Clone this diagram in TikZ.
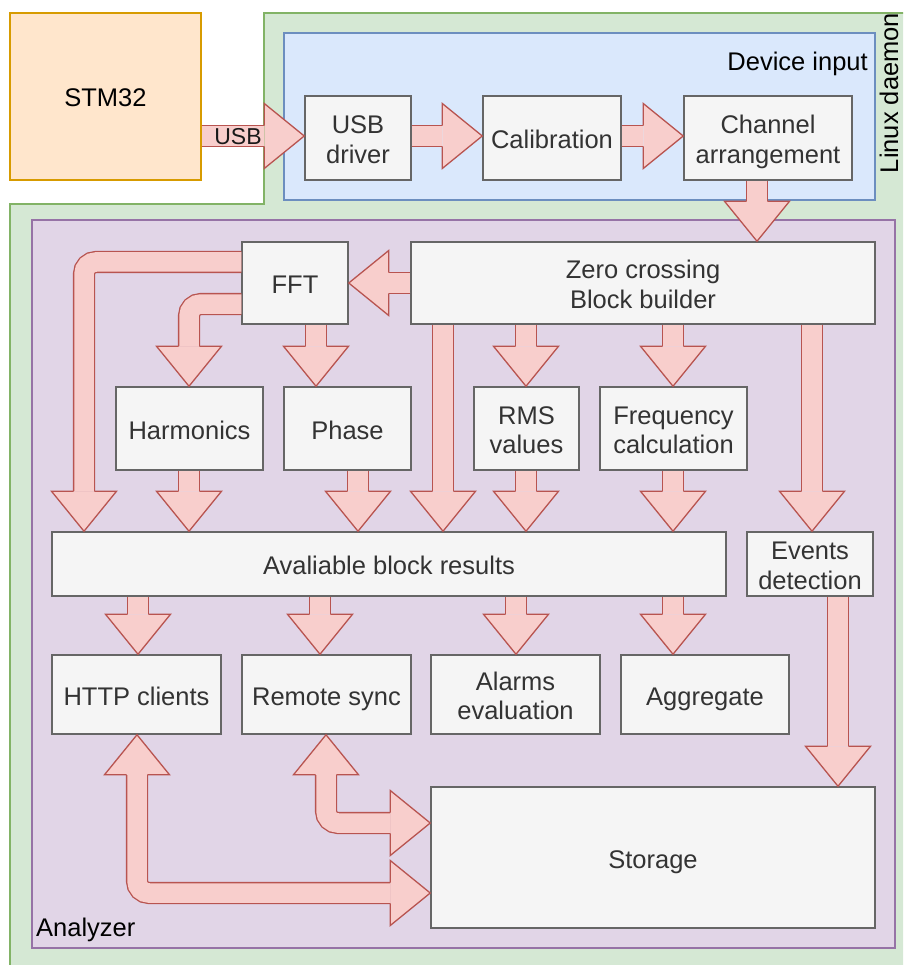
\documentclass[tikz,border=0pt]{standalone}
\usepackage{fontspec}
\setmainfont{Liberation Sans}
\usetikzlibrary{calc}
\definecolor{afill}{HTML}{F8CECC}
\definecolor{astroke}{HTML}{B85450}
\definecolor{bfill}{HTML}{F5F5F5}
\definecolor{bstroke}{HTML}{666666}
\definecolor{btext}{HTML}{333333}
\definecolor{gfill}{HTML}{D5E8D4}
\definecolor{gstroke}{HTML}{82B366}
\definecolor{blfill}{HTML}{DAE8FC}
\definecolor{blstroke}{HTML}{6C8EBF}
\definecolor{pfill}{HTML}{E1D5E7}
\definecolor{pstroke}{HTML}{9673A6}
\definecolor{ofill}{HTML}{FFE6CC}
\definecolor{ostroke}{HTML}{D79B00}
\newcommand{\tstrut}{\rule{0pt}{27pt}}
\newcommand{\dstrut}{\rule[-6pt]{0pt}{6pt}}
\tikzset{
  box/.style={draw=bstroke, fill=bfill, line width=1.5pt, text=btext, align=center, inner sep=0pt,
    font=\fontsize{25.5}{29.5}\selectfont},
  lbl/.style={inner sep=0pt, text=black, font=\fontsize{25.5}{29.5}\selectfont},
  shaft/.style={draw=astroke, line width=1.3pt, double=afill, double distance=19.5pt, rounded corners=12pt},
  head/.pic={
    \fill[afill] (-10.4,-40) -- (-32.5,-40) -- (0,0) -- (32.5,-40) -- (10.4,-40) -- cycle;
    \draw[astroke, line width=1.3pt, line join=miter] (-10.4,-40) -- (-32.5,-40) -- (0,0) -- (32.5,-40) -- (10.4,-40);
  }
}
\newcommand{\mkbox}[6]{\node[box, minimum width={#4pt-#2pt}, minimum height={#5pt-#3pt}] (#1) at ({(#2+#4)/2},{(#3+#5)/2}) {\tstrut#6\dstrut};}
\newcommand{\vflex}[3]{%
  \draw[shaft] (#1,0 |- #2.south) -- ($(#1,0 |- #3.north)+(0,-40)$);
  \pic at (#1,0 |- #3.north) {head};}
\newcommand{\hflex}[3]{%
  \draw[shaft] (#2.east |- 0,#1) -- ($(#3.west |- 0,#1)+(-40,0)$);
  \pic[rotate=90] at (#3.west |- 0,#1) {head};}
\begin{document}
\begin{tikzpicture}[x=1pt,y=-1pt]
\useasboundingbox (0,0) rectangle (903,965);
\clip (0,0) rectangle (903,965);
% containers
\draw[fill=gfill, draw=gstroke, line width=1.5pt] (264,13) -- (915,13) -- (915,980) -- (10,980) -- (10,204) -- (264,204) -- cycle;
\node[lbl, rotate=90, anchor=base] (linux) at (898,93) {Linux daemon};
\draw[fill=blfill, draw=blstroke, line width=1.5pt] (284,33) rectangle (875,200);
\node[lbl, anchor=base east] (devin) at (868,71) {Device input};
\draw[fill=pfill, draw=pstroke, line width=1.5pt] (32,220) rectangle (895,948);
\node[lbl, anchor=base west] (analyzer) at (36,936) {Analyzer};
% STM32
\node[box, draw=ostroke, fill=ofill, text=black, minimum width=191pt, minimum height=167pt] (stm) at (105.5,96.5) {\tstrut STM32\dstrut};
% boxes
\mkbox{usb}{305}{96}{411}{180}{USB\\driver}
\mkbox{cal}{483}{96}{621}{180}{Calibration}
\mkbox{chan}{684}{96}{852}{180}{Channel\\arrangement}
\mkbox{fft}{242}{242}{348}{324}{FFT}
\mkbox{zc}{411}{242}{875}{324}{Zero crossing\\Block builder}
\mkbox{harm}{116}{387}{263}{470}{Harmonics}
\mkbox{phase}{284}{387}{411}{470}{Phase}
\mkbox{rms}{474}{387}{579}{470}{RMS\\values}
\mkbox{freq}{600}{387}{747}{470}{Frequency\\calculation}
\mkbox{res}{52}{532}{726}{596}{Avaliable block results}
\mkbox{events}{747}{532}{873}{596}{Events\\detection}
\mkbox{http}{52}{655}{221}{734}{HTTP clients}
\mkbox{remote}{242}{655}{411}{734}{Remote sync}
\mkbox{alarms}{431}{655}{600}{734}{Alarms\\evaluation}
\mkbox{aggr}{621}{655}{789}{734}{Aggregate}
\mkbox{storage}{431}{787}{875}{928}{Storage}
% device input arrows
\hflex{136}{stm}{usb}
\node[inner sep=0pt, font=\fontsize{23}{27}\selectfont, text=black!90] (usblbl) at (238,137) {USB};
\hflex{136}{usb}{cal}
\hflex{136}{cal}{chan}
\vflex{757}{chan}{zc}
% ZC -> FFT
\draw[shaft] (zc.west |- 0,283) -- ($(fft.east |- 0,283)+(40,0)$);
\pic[rotate=-90] at (fft.east |- 0,283) {head};
% FFT outputs
\draw[shaft] ([yshift=21pt]fft.west) -| ($(84,0 |- res.north)+(0,-40)$);
\pic at (84,0 |- res.north) {head};
\draw[shaft] ([yshift=-21pt]fft.west) -| ($(189,0 |- harm.north)+(0,-40)$);
\pic at (189,0 |- harm.north) {head};
\vflex{316}{fft}{phase}
\vflex{526}{zc}{rms}
\vflex{673}{zc}{freq}
\vflex{443}{zc}{res}
\vflex{812}{zc}{events}
\vflex{189}{harm}{res}
\vflex{358}{phase}{res}
\vflex{526}{rms}{res}
\vflex{673}{freq}{res}
\vflex{138}{res}{http}
\vflex{320}{res}{remote}
\vflex{516}{res}{alarms}
\vflex{673}{res}{aggr}
\vflex{838}{events}{storage}
% double arrows
\draw[shaft] ($(137,0 |- http.south)+(0,40)$) |- ($(storage.west |- 0,893)+(-40,0)$);
\pic[rotate=180] at (137,0 |- http.south) {head};
\pic[rotate=90] at (storage.west |- 0,893) {head};
\draw[shaft] ($(326,0 |- remote.south)+(0,40)$) |- ($(storage.west |- 0,823)+(-40,0)$);
\pic[rotate=180] at (326,0 |- remote.south) {head};
\pic[rotate=90] at (storage.west |- 0,823) {head};
\end{tikzpicture}
\end{document}
